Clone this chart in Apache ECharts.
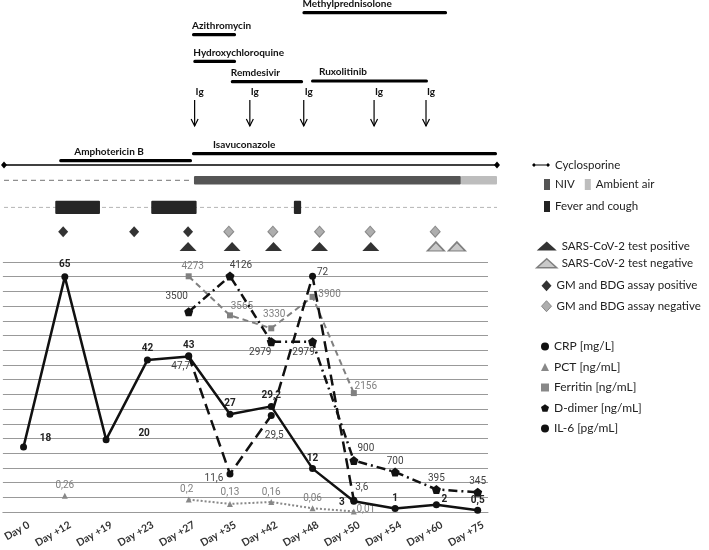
<!DOCTYPE html>
<html>
<head>
<meta charset="utf-8">
<script src="https://cdn.jsdelivr.net/npm/echarts@6/dist/echarts.min.js"></script>
<style>
html, body { margin: 0; padding: 0; background: #fff; }
#chart { width: 709px; height: 550px; }
</style>
</head>
<body>
<div id="chart"></div>
<script>
// lab values, bottom panel
const days = ['Day 0', 'Day +12', 'Day +19', 'Day +23', 'Day +27', 'Day +35', 'Day +42', 'Day +48', 'Day +50', 'Day +54', 'Day +60', 'Day +75'];
const crp = [18, 65, 20, 42, 43, 27, 29.2, 12, 3, 1, 2, 0.5];
const pct = [null, 0.26, null, null, 0.2, 0.13, 0.16, 0.06, 0.01, null, null, null];
const ferritin = [null, null, null, null, 4273, 3565, 3330, 3900, 2156, null, null, null];
const dDimer = [null, null, null, null, 3500, 4126, 2979, 2979, 900, 700, 395, 345];
const il6 = [null, null, null, null, 47.7, 11.6, 29.5, 72, 3.6, null, null, null];

// timeline, top panel (days)
const drugNames = ['Methylprednisolone', 'Azithromycin', 'Hydroxychloroquine', 'Remdesivir', 'Ruxolitinib', 'Isavuconazole', 'Amphotericin B'];
const drugStart = [45.4, 28.6, 28.8, 34.5, 46.7, 28.6, 8.4];
const drugEnd = [67.4, 35.3, 35.3, 45.5, 64.5, 75, 28.6];
const igDays = [29.0, 37.4, 45.6, 56.3, 64.2];
const cyclosporine = [0, 75];
const noSupport = [0, 28.6];
const niv = [[28.9, 69.5]];
const ambientAir = [[69.5, 75]];
const fever = [[7.8, 14.6], [22.4, 29.3], [44.1, 45.2]];
const gmPositive = [9.0, 19.8, 28.0];
const gmNegative = [34.2, 40.9, 48.0, 55.7, 65.6];
const sarsPositive = [28.0, 34.7, 41.0, 48.0, 55.8];
const sarsNegative = [65.7, 68.9];

// layout only
const drugLane = [12.7, 34.7, 61.3, 81.7, 81, 153.7, 160.7];
const drugLabelDx = [0, 0, 0, 0, 8, 21, 15];
const lane = { ig: 100, cyclo: 165, niv: 180.3, fever: 207.4, gm: 231.7, sars: 246.5 };
const crpOff = [[22, -8], [0, -12], [38, -6], [0, -12], [0, -11], [0, -11], [0, -11], [0, -10], [-12, 1], [0, -10], [8, -5], [0, -10]];
const pctOff = [null, [0, -10], null, null, [-2, -10], [0, -11], [0, -10], [0, -10], [12, -2]];
const ferOff = [null, null, null, null, [4, -10], [12, -9], [3, -14], [17, -2], [12, -7]];
const ddOff = [null, null, null, null, [-12, -15], [11, -11], [-11, 11], [-9, 11], [12, -12], [0, -11], [0, -11], [0, -11]];
const il6Off = [null, null, null, null, [-8, 11], [-16, 4], [3, 20], [10, -4], [8, -13]];

const FONT = 'Lato, "Open Sans", sans-serif';
const PENTAGON = 'path://M0,-1L0.951,-0.309L0.588,0.809L-0.588,0.809L-0.951,-0.309Z';
const CYCLO_ICON = 'path://M0,3L2,1L4,3L2,5ZM2,2.6L16,2.6L16,3.4L2,3.4ZM14,3L16,1L18,3L16,5Z';

var chart = echarts.init(document.getElementById('chart'));

function spanItem(color, h, laneY) {
  return function (params, api) {
    const s = api.coord([api.value(0), laneY]);
    const e = api.coord([api.value(1), laneY]);
    return { type: 'rect', shape: { x: s[0], y: s[1] - h / 2, width: e[0] - s[0], height: h, r: 1 }, style: { fill: color } };
  };
}

function labSeries(name, values, yIdx, offs, opt) {
  return Object.assign({
    name: name,
    type: 'line',
    xAxisIndex: 1,
    yAxisIndex: yIdx,
    connectNulls: false,
    data: values.map((v, i) => ({ value: [i, v], label: { offset: (offs[i] || [0, -10]) } })),
    label: {
      show: true,
      position: 'inside',
      fontFamily: 'Roboto, sans-serif',
      fontSize: 10,
      formatter: p => String(p.value[1]).replace('.', ',')
    }
  }, opt);
}

const legendText = { fontFamily: FONT, fontSize: 11.5, color: '#222' };
const legendBase = { padding: 0, selectedMode: false, textStyle: legendText };

var option = {
  animation: false,
  backgroundColor: '#fff',
  grid: [
    { left: 4, width: 493, top: 0, height: 260 },
    { left: 0, width: 488, top: 262, height: 257 }
  ],
  xAxis: [
    { gridIndex: 0, type: 'value', min: 0, max: 75, show: false },
    {
      gridIndex: 1, type: 'value', min: -0.5, max: 11.25,
      axisLine: { show: true, lineStyle: { color: '#999', width: 1 } },
      axisTick: { show: false },
      splitLine: { show: false },
      axisLabel: {
        customValues: days.map((d, i) => i + 0.13),
        formatter: v => days[Math.round(v)],
        rotate: 30,
        margin: 12,
        fontFamily: FONT,
        fontWeight: 'bold',
        fontSize: 10.5,
        color: '#333'
      }
    }
  ],
  yAxis: [
    { gridIndex: 0, type: 'value', min: 0, max: 260, inverse: true, show: false },
    {
      gridIndex: 1, type: 'value', min: 0, max: 17, interval: 1,
      axisLine: { show: false }, axisTick: { show: false }, axisLabel: { show: false },
      splitLine: { show: true, lineStyle: { color: '#999', width: 1 } }
    },
    { gridIndex: 1, type: 'value', min: 0, max: 69.1, show: false, splitLine: { show: false } },
    { gridIndex: 1, type: 'value', min: 0, max: 4.0, show: false, splitLine: { show: false } },
    { gridIndex: 1, type: 'value', min: 0, max: 4532, show: false, splitLine: { show: false } },
    { gridIndex: 1, type: 'value', min: 0, max: 4372, show: false, splitLine: { show: false } },
    { gridIndex: 1, type: 'value', min: 0, max: 76.37, show: false, splitLine: { show: false } }
  ],
  legend: [
    Object.assign({}, legendBase, {
      left: 532, top: 159, itemWidth: 18, itemHeight: 6,
      data: [{ name: 'Cyclosporine', icon: CYCLO_ICON, itemStyle: { color: '#000' } }]
    }),
    Object.assign({}, legendBase, {
      left: 544, top: 178.5, itemWidth: 6, itemHeight: 11, itemGap: 10,
      data: [
        { name: 'NIV', icon: 'rect', itemStyle: { color: '#555' } },
        { name: 'Ambient air', icon: 'rect', itemStyle: { color: '#bdbdbd' } }
      ]
    }),
    Object.assign({}, legendBase, {
      left: 544, top: 200.5, itemWidth: 6, itemHeight: 11,
      data: [{ name: 'Fever and cough', icon: 'rect', itemStyle: { color: '#222' } }]
    }),
    Object.assign({}, legendBase, {
      left: 536, top: 240, orient: 'vertical', itemWidth: 20, itemHeight: 9, itemGap: 5.3,
      data: [
        { name: 'SARS-CoV-2 test positive', icon: 'triangle', itemStyle: { color: '#000' } },
        { name: 'SARS-CoV-2 test negative', icon: 'triangle', itemStyle: { color: '#bbb', borderColor: '#666', borderWidth: 1.5 } }
      ]
    }),
    Object.assign({}, legendBase, {
      left: 541, top: 279.7, orient: 'vertical', itemWidth: 10, itemHeight: 11, itemGap: 8.5,
      data: [
        { name: 'GM and BDG assay positive', icon: 'diamond', itemStyle: { color: '#000' } },
        { name: 'GM and BDG assay negative', icon: 'diamond', itemStyle: { color: '#9a9a9a', borderColor: '#777', borderWidth: 1 } }
      ]
    }),
    Object.assign({}, legendBase, {
      left: 541, top: 340.5, orient: 'vertical', itemWidth: 8, itemHeight: 8, itemGap: 8.5,
      textStyle: Object.assign({}, legendText, { fontSize: 12 }),
      data: [
        { name: 'CRP [mg/L]', icon: 'circle', itemStyle: { color: '#111' } },
        { name: 'PCT [ng/mL]', icon: 'triangle', itemStyle: { color: '#888' } },
        { name: 'Ferritin [ng/mL]', icon: 'rect', itemStyle: { color: '#888' } },
        { name: 'D-dimer [ng/mL]', icon: PENTAGON, itemStyle: { color: '#111' } },
        { name: 'IL-6 [pg/mL]', icon: 'circle', itemStyle: { color: '#111' } }
      ]
    })
  ],
  series: [
    // drugs
    {
      type: 'custom', name: 'drugs', xAxisIndex: 0, yAxisIndex: 0, z: 3,
      data: drugNames.map((n, i) => [drugStart[i], drugEnd[i], drugLane[i]]),
      renderItem: function (params, api) {
        const i = params.dataIndex;
        const s = api.coord([api.value(0), api.value(2)]);
        const e = api.coord([api.value(1), api.value(2)]);
        return {
          type: 'group', children: [
            { type: 'rect', shape: { x: s[0], y: s[1] - 1.6, width: e[0] - s[0], height: 3.2, r: 1.5 }, style: { fill: '#000' } },
            { type: 'text', x: s[0] + drugLabelDx[i], y: s[1] - 9, style: { text: drugNames[i], font: 'bold 10px ' + FONT, fill: '#111', verticalAlign: 'middle' } }
          ]
        };
      }
    },
    // Ig arrows
    {
      type: 'custom', name: 'Ig', xAxisIndex: 0, yAxisIndex: 0, z: 3,
      data: igDays.map(d => [d]),
      renderItem: function (params, api) {
        const p = api.coord([api.value(0), lane.ig]);
        const x = p[0], y0 = p[1], y1 = y0 + 26;
        return {
          type: 'group', children: [
            { type: 'line', shape: { x1: x, y1: y0, x2: x, y2: y1 }, style: { stroke: '#000', lineWidth: 1.2 } },
            { type: 'polyline', shape: { points: [[x - 3.5, y1 - 7], [x, y1], [x + 3.5, y1 - 7]] }, style: { stroke: '#000', lineWidth: 1.2, fill: null } },
            { type: 'text', x: x + 5, y: y0 - 8.3, style: { text: 'Ig', font: 'bold 10px ' + FONT, fill: '#111', align: 'center', verticalAlign: 'middle' } }
          ]
        };
      }
    },
    {
      type: 'line', name: 'Cyclosporine', xAxisIndex: 0, yAxisIndex: 0,
      data: cyclosporine.map(d => [d, lane.cyclo]),
      symbol: 'diamond', symbolSize: [6, 7], itemStyle: { color: '#000' },
      lineStyle: { color: '#000', width: 1.4 }
    },
    {
      type: 'line', name: 'no support', xAxisIndex: 0, yAxisIndex: 0, z: 1,
      data: noSupport.map(d => [d, lane.niv]), symbol: 'none',
      lineStyle: { color: '#8f8f8f', width: 1.2, type: [5, 4] }
    },
    { type: 'custom', name: 'NIV', xAxisIndex: 0, yAxisIndex: 0, z: 3, data: niv, itemStyle: { color: '#555' }, renderItem: spanItem('#555', 8.5, lane.niv) },
    { type: 'custom', name: 'Ambient air', xAxisIndex: 0, yAxisIndex: 0, z: 3, data: ambientAir, itemStyle: { color: '#bdbdbd' }, renderItem: spanItem('#bdbdbd', 8.5, lane.niv) },
    {
      type: 'line', name: 'fever baseline', xAxisIndex: 0, yAxisIndex: 0, z: 1,
      data: cyclosporine.map(d => [d, lane.fever]), symbol: 'none',
      lineStyle: { color: '#b5b5b5', width: 1, type: [4, 3] }
    },
    { type: 'custom', name: 'Fever and cough', xAxisIndex: 0, yAxisIndex: 0, z: 3, data: fever, itemStyle: { color: '#222' }, renderItem: spanItem('#262626', 13.4, lane.fever) },
    {
      type: 'scatter', name: 'GM and BDG assay positive', xAxisIndex: 0, yAxisIndex: 0,
      data: gmPositive.map(d => [d, lane.gm]), symbol: 'diamond', symbolSize: [10, 11], itemStyle: { color: '#000' }
    },
    {
      type: 'scatter', name: 'GM and BDG assay negative', xAxisIndex: 0, yAxisIndex: 0,
      data: gmNegative.map(d => [d, lane.gm]), symbol: 'diamond', symbolSize: [10, 11],
      itemStyle: { color: '#9a9a9a', borderColor: '#777', borderWidth: 1 }
    },
    {
      type: 'scatter', name: 'SARS-CoV-2 test positive', xAxisIndex: 0, yAxisIndex: 0,
      data: sarsPositive.map(d => [d, lane.sars]), symbol: 'triangle', symbolSize: [17, 9], itemStyle: { color: '#000' }
    },
    {
      type: 'scatter', name: 'SARS-CoV-2 test negative', xAxisIndex: 0, yAxisIndex: 0,
      data: sarsNegative.map(d => [d, lane.sars]), symbol: 'triangle', symbolSize: [17, 9],
      itemStyle: { color: '#bbb', borderColor: '#666', borderWidth: 1.5 }
    },
    // lab series
    labSeries('PCT [ng/mL]', pct, 3, pctOff, {
      symbol: 'triangle', symbolSize: 6, z: 3,
      itemStyle: { color: '#888' }, lineStyle: { color: '#888', width: 2, type: [2, 2] }
    }),
    labSeries('Ferritin [ng/mL]', ferritin, 4, ferOff, {
      symbol: 'rect', symbolSize: 6, z: 3,
      itemStyle: { color: '#808080' }, lineStyle: { color: '#808080', width: 2, type: [6, 4] }
    }),
    labSeries('D-dimer [ng/mL]', dDimer, 5, ddOff, {
      symbol: PENTAGON, symbolSize: 9, z: 4,
      itemStyle: { color: '#111' }, lineStyle: { color: '#111', width: 2.5, type: [9, 4, 2, 4] }
    }),
    labSeries('IL-6 [pg/mL]', il6, 6, il6Off, {
      symbol: 'circle', symbolSize: 7, z: 4,
      itemStyle: { color: '#111' }, lineStyle: { color: '#111', width: 2.5, type: [11, 6] }
    }),
    labSeries('CRP [mg/L]', crp, 2, crpOff, {
      symbol: 'circle', symbolSize: 7, z: 5,
      itemStyle: { color: '#111' }, lineStyle: { color: '#111', width: 2.5 }
    })
  ]
};

// label colours per series
option.series.forEach(s => {
  if (!s.label) return;
  if (s.name === 'PCT [ng/mL]' || s.name === 'Ferritin [ng/mL]') s.label.color = '#808080';
  else if (s.name === 'CRP [mg/L]') { s.label.color = '#222'; s.label.fontWeight = 'bold'; }
  else s.label.color = '#444';
});

chart.setOption(option);
</script>
</body>
</html>
